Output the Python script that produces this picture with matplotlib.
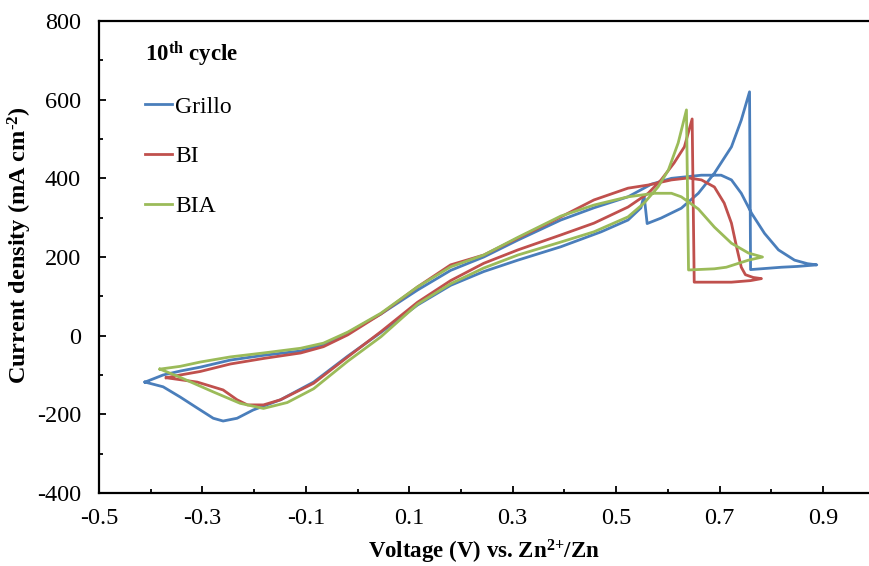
import matplotlib
matplotlib.use("Agg")
import matplotlib.pyplot as plt
from matplotlib.ticker import FixedLocator, FixedFormatter
from matplotlib.lines import Line2D

plt.rcParams['font.family'] = ['Liberation Serif', 'DejaVu Serif']
plt.rcParams['mathtext.fontset'] = 'custom'
plt.rcParams['mathtext.rm'] = 'Liberation Serif'
plt.rcParams['mathtext.bf'] = 'Liberation Serif:bold'
plt.rcParams['mathtext.it'] = 'Liberation Serif:italic'
plt.rcParams['axes.unicode_minus'] = False

series_names = ["Grillo", "BI", "BIA"]
series_colors = ["#4A7EBB", "#C0504D", "#9BBB59"]

grillo_v = [-0.411, -0.376, -0.343, -0.304, -0.246, -0.182, -0.110, -0.066, -0.019, 0.045,
            0.116, 0.180, 0.244, 0.310, 0.393, 0.457, 0.523, 0.568, 0.607, 0.665,
            0.703, 0.723, 0.742, 0.762, 0.787, 0.814, 0.845, 0.870, 0.888,
            0.850, 0.820, 0.790, 0.760, 0.758,
            0.742, 0.723, 0.690, 0.659, 0.626, 0.587, 0.560, 0.554, 0.548, 0.523,
            0.471, 0.393, 0.310, 0.244, 0.180, 0.116, 0.045, -0.019, -0.085, -0.149,
            -0.202, -0.233, -0.260, -0.279, -0.310, -0.343, -0.376, -0.411]
grillo_i = [-118, -100, -90, -80, -62, -50, -39, -22, 7, 55,
            116, 166, 200, 243, 294, 325, 353, 385, 400, 408,
            408, 396, 362, 311, 260, 218, 192, 183, 180,
            176, 174, 171, 168, 620,
            548, 480, 413, 362, 324, 299, 285, 357, 325, 294,
            264, 226, 192, 163, 128, 78, 8, -52, -118, -163,
            -189, -210, -217, -210, -184, -156, -130, -118]

bi_v = [-0.370, -0.343, -0.304, -0.246, -0.182, -0.110, -0.066, -0.019, 0.045, 0.116,
        0.180, 0.244, 0.310, 0.374, 0.457, 0.523, 0.562, 0.607, 0.640, 0.665,
        0.690, 0.709, 0.723, 0.733, 0.742, 0.750, 0.765, 0.781,
        0.760, 0.723, 0.690, 0.651, 0.647,
        0.632, 0.612, 0.587, 0.562, 0.523, 0.457, 0.393, 0.310, 0.244, 0.180,
        0.116, 0.045, -0.019, -0.085, -0.149, -0.182, -0.213, -0.233, -0.260, -0.310,
        -0.370]
bi_i = [-107, -100, -91, -72, -58, -44, -28, 2, 55, 124,
        180, 205, 248, 289, 345, 375, 383, 396, 401, 396,
        378, 337, 286, 225, 174, 155, 148, 145,
        140, 136, 136, 136, 551,
        480, 439, 396, 362, 327, 286, 256, 218, 184, 140,
        85, 10, -54, -121, -163, -176, -176, -163, -138, -118,
        -107]

bia_v = [-0.382, -0.343, -0.304, -0.246, -0.182, -0.110, -0.066, -0.019, 0.045, 0.116,
         0.180, 0.244, 0.310, 0.393, 0.457, 0.523, 0.574, 0.607, 0.626, 0.659,
         0.690, 0.723, 0.756, 0.783,
         0.756, 0.713, 0.690, 0.640, 0.636,
         0.620, 0.601, 0.581, 0.554, 0.523, 0.457, 0.393, 0.310, 0.244, 0.180,
         0.116, 0.045, -0.019, -0.085, -0.136, -0.182, -0.227, -0.279, -0.343, -0.382]
bia_i = [-85, -78, -67, -54, -44, -32, -19, 9, 57, 124,
         175, 205, 250, 304, 332, 353, 362, 362, 353, 322,
         276, 235, 210, 200,
         192, 174, 170, 167, 574,
         490, 421, 378, 337, 302, 264, 238, 205, 172, 132,
         80, -3, -65, -135, -170, -185, -172, -143, -106, -85]

x_ticks = [-0.5, -0.3, -0.1, 0.1, 0.3, 0.5, 0.7, 0.9]
x_tick_labels = ["-0.5", "-0.3", "-0.1", "0.1", "0.3", "0.5", "0.7", "0.9"]
y_ticks = [-400, -200, 0, 200, 400, 600, 800]
y_tick_labels = ["-400", "-200", "0", "200", "400", "600", "800"]

W, H = 869, 566
fig = plt.figure(figsize=(W / 100, H / 100), dpi=100)
ax = fig.add_axes([99 / W, 1 - 493 / H, 770 / W, 472 / H])

data = [(grillo_v, grillo_i), (bi_v, bi_i), (bia_v, bia_i)]
for (v, i), name, c in zip(data, series_names, series_colors):
    ax.plot(v, i, color=c, lw=2.0, solid_joinstyle='round', label=name)

ax.set_xlim(-0.5, 0.989)
ax.set_ylim(-400, 800)
ax.xaxis.set_major_locator(FixedLocator(x_ticks))
ax.xaxis.set_major_formatter(FixedFormatter(x_tick_labels))
ax.xaxis.set_minor_locator(FixedLocator([-0.4, -0.2, 0.0, 0.2, 0.4, 0.6, 0.8]))
ax.yaxis.set_major_locator(FixedLocator(y_ticks))
ax.yaxis.set_major_formatter(FixedFormatter(y_tick_labels))
ax.yaxis.set_minor_locator(FixedLocator([-300, -100, 100, 300, 500, 700]))

ax.tick_params(which='major', direction='in', length=5, width=1.3, labelsize=17.5, colors='black')
ax.tick_params(which='minor', direction='in', length=3, width=1.3)
ax.tick_params(axis='x', which='major', pad=11)
ax.tick_params(axis='y', which='major', pad=13)
ax.tick_params(right=False, top=False, which='both')

for s in ['left', 'bottom', 'top']:
    ax.spines[s].set_linewidth(1.6)
ax.spines['right'].set_visible(False)

ax.set_xlabel(r"Voltage (V) vs. Zn$^{\mathbf{2{+}}}$/Zn", fontsize=16.5, fontweight='bold', labelpad=6)
ax.set_ylabel("Current density (mA cm$^{\\mathbf{\u20102}}$)", fontsize=17.5, fontweight='bold')
ax.yaxis.set_label_coords(-0.085, 0.525)

fig.text(145 / W, 1 - 54 / H, r"10$^{\mathbf{th}}$ cycle", fontsize=16.5, fontweight='bold',
         va='center', ha='left')

handles = [Line2D([0], [0], color=c, lw=2.0) for c in series_colors]
leg = ax.legend(handles, series_names, loc='upper left', bbox_to_anchor=(145 / W, 1 - 96 / H),
                bbox_transform=fig.transFigure, frameon=False, fontsize=17,
                handlelength=1.15, handletextpad=0.12, labelspacing=1.2,
                borderpad=0, borderaxespad=0)

fig.savefig("out.png", dpi=100)
